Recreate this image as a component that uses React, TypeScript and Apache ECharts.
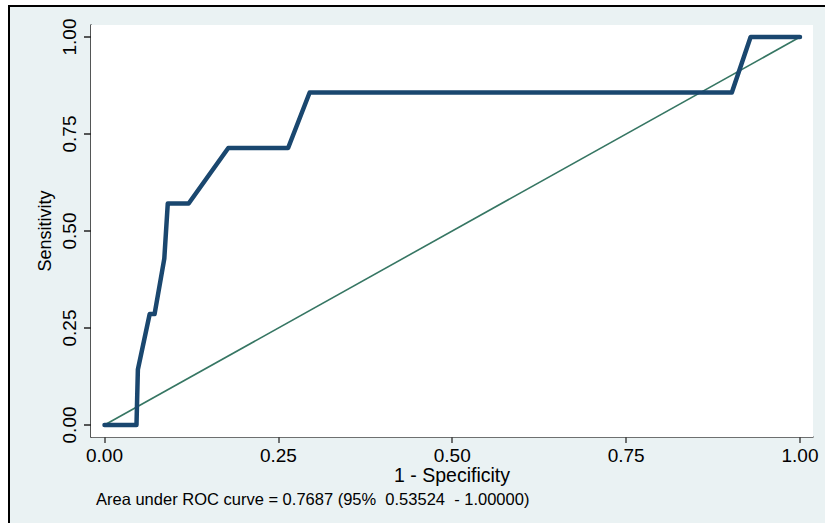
import React, { useEffect, useRef } from "react";
import * as echarts from "echarts";

const tickValues = [0, 0.25, 0.5, 0.75, 1];
const rocX = [0, 0.046, 0.048, 0.065, 0.072, 0.086, 0.091, 0.121, 0.178, 0.264, 0.295, 0.902, 0.929, 1];
const rocY = [0, 0, 0.143, 0.286, 0.286, 0.429, 0.571, 0.571, 0.714, 0.714, 0.857, 0.857, 1, 1];
const refX = [0, 1];
const refY = [0, 1];
const xTitle = "1 - Specificity";
const yTitle = "Sensitivity";
const note = "Area under ROC curve = 0.7687 (95%  0.53524  - 1.00000)";

const FONT = "'Liberation Sans', Arial, Helvetica, sans-serif";

export default function App() {
  const ref = useRef<HTMLDivElement>(null);
  useEffect(() => {
    if (!ref.current) return;
    const chart = echarts.init(ref.current, undefined, { renderer: "svg" });
    const fmt = (v: number) => v.toFixed(2);
    chart.setOption({
      animation: false,
      backgroundColor: "#ffffff",
      textStyle: { fontFamily: FONT },
      graphic: [
        {
          type: "rect",
          z: -100,
          silent: true,
          shape: { x: 9, y: 6, width: 900, height: 600 },
          style: { fill: "#EAF2F3", stroke: "#000000", lineWidth: 2 },
        },
        {
          type: "text",
          x: 452,
          y: 475,
          style: { text: xTitle, font: `19.5px ${FONT}`, fill: "#000", align: "center", verticalAlign: "middle" },
        },
        {
          type: "text",
          x: 45,
          y: 231,
          rotation: Math.PI / 2,
          style: { text: yTitle, font: `18px ${FONT}`, fill: "#000", align: "center", verticalAlign: "middle" },
        },
        {
          type: "text",
          x: 96,
          y: 499,
          style: { text: note, font: `16.5px ${FONT}`, fill: "#000", align: "left", verticalAlign: "middle" },
        },
      ],
      grid: {
        show: true,
        left: 91,
        right: 12,
        top: 25,
        bottom: 86,
        backgroundColor: "#ffffff",
        borderWidth: 0,
        z: 1,
      },
      xAxis: {
        type: "value",
        min: -0.0194,
        max: 1.0187,
        axisLine: { show: true, onZero: false, lineStyle: { color: "#444", width: 1.5 } },
        axisTick: { show: true, length: 6, customValues: tickValues, lineStyle: { color: "#444", width: 1.5 } },
        axisLabel: {
          customValues: tickValues,
          formatter: fmt,
          margin: 9,
          fontSize: 19,
          color: "#000",
          fontFamily: FONT,
        },
        splitLine: { show: true, lineStyle: { color: "#E6EFF1", width: 1.5 } },
      },
      yAxis: {
        type: "value",
        min: -0.031,
        max: 1.031,
        axisLine: { show: true, onZero: false, lineStyle: { color: "#222", width: 1.5 } },
        axisTick: { show: true, length: 7, customValues: tickValues, lineStyle: { color: "#222", width: 1.5 } },
        axisLabel: {
          customValues: tickValues,
          formatter: fmt,
          rotate: 90,
          margin: 12,
          fontSize: 19,
          color: "#000",
          fontFamily: FONT,
        },
        splitLine: { show: true, lineStyle: { color: "#E6EFF1", width: 1.5 } },
      },
      series: [
        {
          type: "line",
          data: refX.map((x, i) => [x, refY[i]]),
          showSymbol: false,
          symbol: "none",
          lineStyle: { color: "#367663", width: 1.6 },
          z: 3,
        },
        {
          type: "line",
          data: rocX.map((x, i) => [x, rocY[i]]),
          showSymbol: false,
          symbol: "none",
          lineStyle: { color: "#1A476F", width: 4.5, cap: "round", join: "round" },
          z: 4,
        },
      ],
    });
    return () => chart.dispose();
  }, []);
  return <div ref={ref} style={{ position: "fixed", left: 0, top: 0, width: 825, height: 523 }} />;
}
